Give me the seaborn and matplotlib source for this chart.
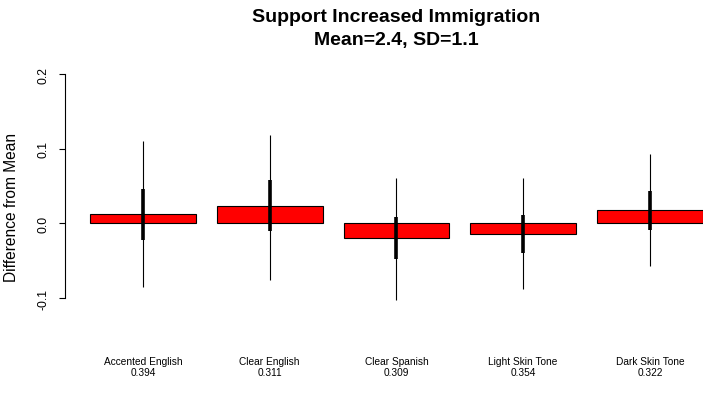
import pandas as pd
import seaborn as sns
import matplotlib.pyplot as plt

# values
groups = ["Accented English", "Clear English", "Clear Spanish", "Light Skin Tone", "Dark Skin Tone"]
shares = ["0.394", "0.311", "0.309", "0.354", "0.322"]
diff = [0.0123, 0.0234, -0.0200, -0.0145, 0.0177]
ci95_lo = [-0.085, -0.075, -0.102, -0.088, -0.0565]
ci95_hi = [0.110, 0.118, 0.061, 0.061, 0.0926]
ci50_lo = [-0.022, -0.010, -0.048, -0.040, -0.009]
ci50_hi = [0.046, 0.058, 0.0087, 0.012, 0.0435]

df = pd.DataFrame({"group": groups, "diff": diff})

sns.set_style("white")
plt.rcParams["font.family"] = ["Liberation Sans", "DejaVu Sans"]
plt.rcParams["text.color"] = "black"
plt.rcParams["xtick.color"] = "black"
plt.rcParams["ytick.color"] = "black"

W, H = 703, 402
fig = plt.figure(figsize=(W / 100, H / 100), dpi=100)
# plot region runs past the right edge, as in the original
ax = fig.add_axes([65 / W, 1 - 349 / H, 662 / W, (349 - 66) / H])

sns.barplot(
    data=df, x="group", y="diff", order=groups,
    color="red", saturation=1, edgecolor="black", linewidth=0.8,
    width=1 / 1.2, errorbar=None, ax=ax,
)

xs = range(len(groups))
ax.vlines(xs, ci95_lo, ci95_hi, color="black", lw=0.8)
ax.vlines(xs, ci50_lo, ci50_hi, color="black", lw=2.6)

ax.set_xlim(-0.6156, 4.609)
ax.set_ylim(-0.1667, 0.2122)
ax.set_yticks([-0.1, 0.0, 0.1, 0.2])
ax.set_yticklabels(["-0.1", "0.0", "0.1", "0.2"], rotation=90, va="center")
ax.tick_params(axis="y", length=4.3, width=0.8, pad=7, labelsize=8.8,
               color="black", labelcolor="black", left=True)

ax.set_xticks(list(xs))
ax.set_xticklabels([f"{g}\n{s}" for g, s in zip(groups, shares)], fontsize=7.3, linespacing=1.2)
ax.tick_params(axis="x", length=0, pad=5.5, labelcolor="black")

for side in ["top", "right", "bottom"]:
    ax.spines[side].set_visible(False)
ax.spines["left"].set_bounds(-0.1, 0.2)
ax.spines["left"].set_linewidth(0.8)
ax.spines["left"].set_color("black")

ax.set_xlabel("")
ax.set_ylabel("")
fig.text(12 / W, 1 - 207.5 / H, "Difference from Mean", rotation=90,
         ha="center", va="center", fontsize=11.2, color="black")

fig.text(396 / W, 1 - 29 / H, "Support Increased Immigration\nMean=2.4, SD=1.1",
         ha="center", va="center", fontsize=14, fontweight="bold",
         linespacing=1.4, color="black")

fig.savefig("out.png", dpi=100)
